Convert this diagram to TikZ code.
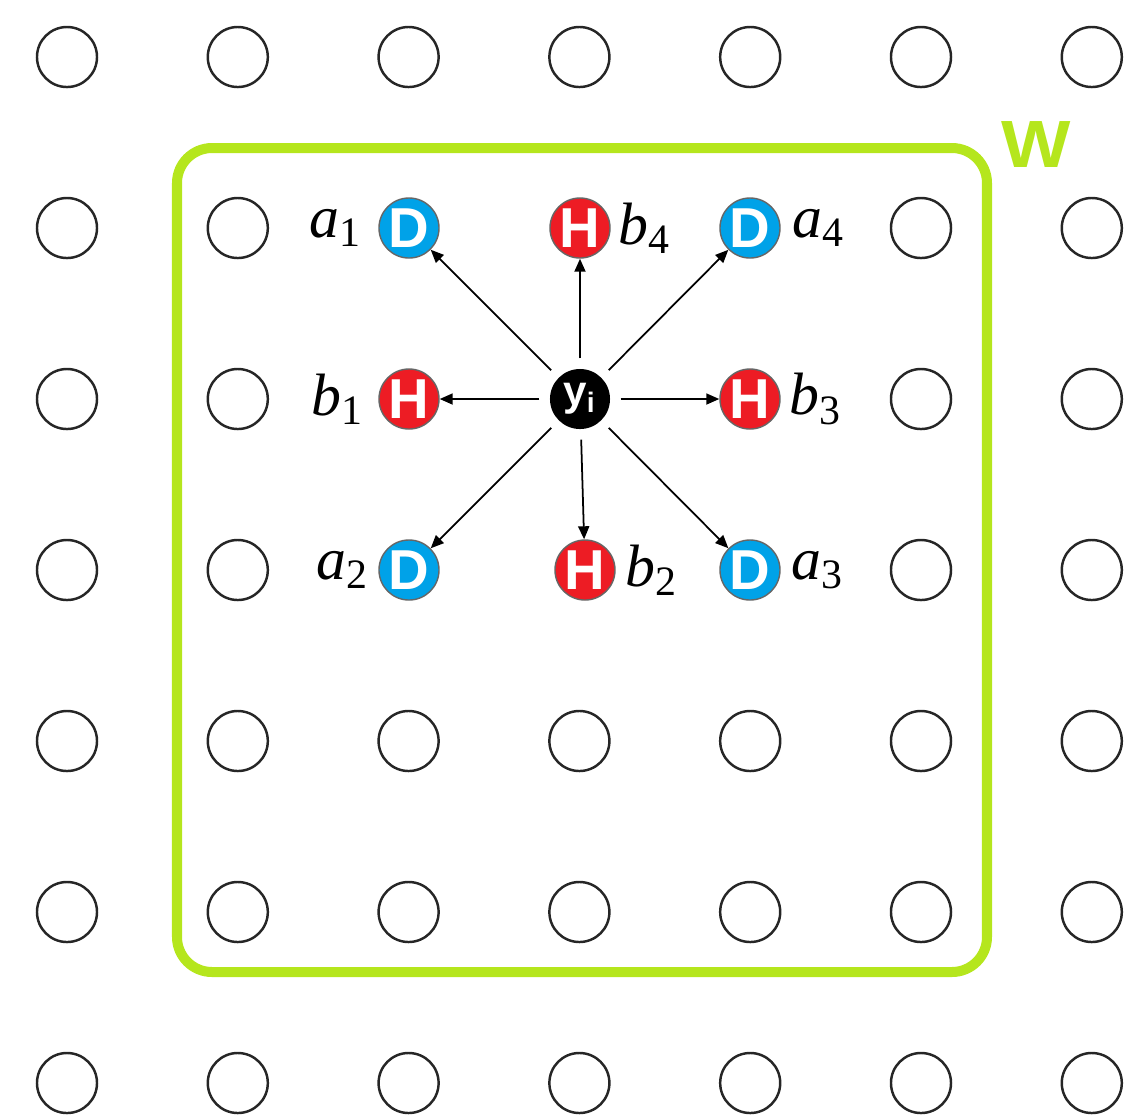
\documentclass[tikz,border=0pt]{standalone}
\usepackage{fontspec}
\setmainfont{Liberation Serif}
\setsansfont{Liberation Sans}
\newfontfamily\timesfont{Liberation Serif}
\usetikzlibrary{arrows.meta,positioning}
\definecolor{limegreen}{RGB}{181,230,29}
\definecolor{dblue}{RGB}{0,162,232}
\definecolor{hred}{RGB}{237,28,36}
\newcommand{\sublab}[2]{{\timesfont\itshape #1}\textsubscript{\timesfont #2}}

\begin{document}
\begin{tikzpicture}[x=0.01cm, y=-0.01cm,
  site/.style={circle, draw=black!85, line width=0.7pt, minimum size=0.6cm, inner sep=0pt},
  dsite/.style={circle, fill=dblue, draw=black!60, line width=0.4pt, minimum size=0.6cm, inner sep=0pt,
    text=white, font=\sffamily\bfseries\fontsize{16}{16}\selectfont},
  hsite/.style={dsite, fill=hred},
  ysite/.style={circle, fill=black, minimum size=0.6cm, inner sep=0pt,
    text=white, font=\sffamily\bfseries\fontsize{12}{12}\selectfont},
  lab/.style={inner sep=0pt, font=\timesfont\fontsize{17}{20}\selectfont},
  link/.style={-{Triangle[length=1.3mm, width=1.1mm]}, line width=0.5pt, shorten <=0.1cm}]
\useasboundingbox (0,0) rectangle (1126,1120);
% lattice of empty sites
\foreach \c in {0,...,6} {
  \foreach \r in {0,...,6} {
    \pgfmathtruncatemacro\inwin{(\c>1)&&(\c<5)&&(\r>0)&&(\r<4)}
    \ifnum\inwin=0
      \node[site] (s-\c-\r) at ({67+170.8*\c},{57+171*\r}) {};
    \fi
  }
}
% window W
\draw[limegreen, line width=0.1cm, rounded corners=0.35cm] (177,148) rectangle (987,972);
\node[text=limegreen, font=\sffamily\bfseries\fontsize{19}{19}\selectfont, xscale=1.1] (w) at (1036,145) {W};
% centre site and its neighbours
\node[ysite] (y) at (580,399) {y\textsubscript{i}};
\foreach \x/\y/\n/\s/\t in {409/228/a1/dsite/D, 580/228/b4/hsite/H, 750/228/a4/dsite/D,
                         409/399/b1/hsite/H, 750/399/b3/hsite/H,
                         409/570/a2/dsite/D, 585/570/b2/hsite/H, 750/570/a3/dsite/D} {
  \node[\s] (\n) at (\x,\y) {\t};
  \draw[link] (y) -- (\n);
}
\node[lab, left=0.15cm of a1] (la1) {\sublab{a}{1}};
\node[lab, left=0.13cm of b1] (lb1) {\sublab{b}{1}};
\node[lab, left=0.08cm of a2] (la2) {\sublab{a}{2}};
\node[lab, right=0.07cm of b4] (lb4) {\sublab{b}{4}};
\node[lab, right=0.09cm of b2] (lb2) {\sublab{b}{2}};
\node[lab, right=0.11cm of a4] (la4) {\sublab{a}{4}};
\node[lab, right=0.08cm of b3] (lb3) {\sublab{b}{3}};
\node[lab, right=0.10cm of a3] (la3) {\sublab{a}{3}};
\end{tikzpicture}
\end{document}
